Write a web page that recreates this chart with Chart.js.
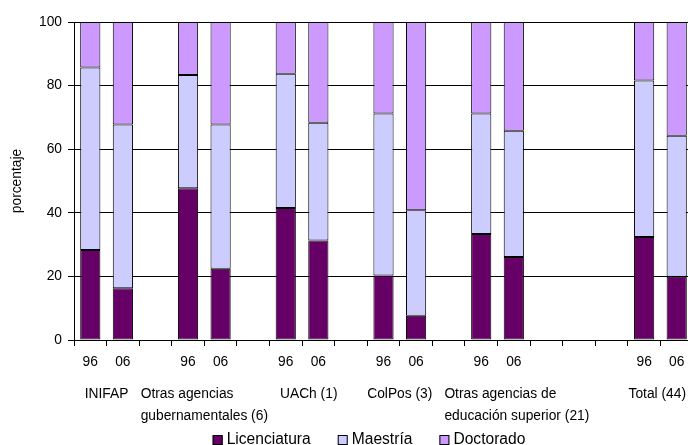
<!DOCTYPE html>
<html>
<head>
<meta charset="utf-8">
<script src="https://cdn.jsdelivr.net/npm/chart.js@4/dist/chart.umd.min.js"></script>
<style>
  html, body { margin: 0; padding: 0; background: #fff; }
  #wrap { width: 688px; height: 445px; overflow: hidden; position: relative; }
  canvas { display: block; }
</style>
</head>
<body>
<div id="wrap"><canvas id="c" width="693" height="445" style="width:693px;height:445px"></canvas></div>
<script>
// Year of each column; empty entries are spacer columns between institutions
const years = ['96', '06', '', '96', '06', '', '96', '06', '', '96', '06', '', '96', '06', '', '', '', '96', '06'];

// Share of researchers by highest degree (%)
const licenciatura = [28.3, 16.3, null, 47.7, 22.4, null, 41.5, 31.3, null, 20.3, 7.6, null, 33.3, 26.1, null, null, null, 32.4, 19.9];
const maestria     = [57.4, 51.5, null, 35.6, 45.4, null, 42.2, 37.0, null, 50.9, 33.2, null, 37.9, 39.7, null, null, null, 49.2, 44.3];
const doctorado    = [14.3, 32.2, null, 16.7, 32.2, null, 16.3, 31.7, null, 28.8, 59.2, null, 28.8, 34.2, null, null, null, 18.4, 35.8];

// Institution names written under each pair of columns
const groupNames = [
  ['INIFAP'],
  ['Otras agencias', 'gubernamentales (6)'],
  ['UACh (1)'],
  ['ColPos (3)'],
  ['Otras agencias de', 'educación superior (21)'],
  ['Total (44)']
];

const seriesNames = ['Licenciatura', 'Maestría', 'Doctorado'];
const seriesColors = ['#660066', '#CCCCFF', '#CC99FF'];

const FONT = '"Liberation Sans", Arial, sans-serif';
const VIEW_W = 688;

// Pairs of column indices (consecutive non-empty year labels)
function columnPairs() {
  const pairs = [];
  for (let i = 0; i < years.length - 1; i++) {
    if (years[i] && years[i + 1]) { pairs.push([i, i + 1]); i++; }
  }
  return pairs;
}

const annotations = {
  id: 'annotations',
  afterDraw(chart) {
    const ctx = chart.ctx;
    const xs = chart.scales.x;
    ctx.save();
    ctx.fillStyle = '#000';
    ctx.textBaseline = 'alphabetic';
    ctx.textAlign = 'left';

    // institution names, kept from overlapping and inside the view
    ctx.font = '13.8px ' + FONT;
    const minGap = 12;
    let prevRight = -Infinity;
    columnPairs().forEach((p, gi) => {
      const lines = groupNames[gi];
      if (!lines) return;
      const w = Math.max(...lines.map(l => ctx.measureText(l).width));
      const cx = (xs.getPixelForValue(p[0]) + xs.getPixelForValue(p[1])) / 2;
      let left = cx - w / 2;
      if (left < prevRight + minGap) left = prevRight + minGap;
      if (left + w > VIEW_W - 2) left = VIEW_W - 2 - w;
      lines.forEach((l, k) => ctx.fillText(l, left, 398 + k * 21.6));
      prevRight = left + w;
    });

    // legend
    ctx.font = '15.6px ' + FONT;
    const box = 10, gap = 4, spacing = 27;
    const widths = seriesNames.map(n => box + gap + ctx.measureText(n).width);
    const total = widths.reduce((a, b) => a + b, 0) + spacing * (widths.length - 1);
    let lx = 369 - total / 2;
    seriesNames.forEach((n, i) => {
      ctx.fillStyle = seriesColors[i];
      ctx.fillRect(lx, 435.5, box, box);
      ctx.strokeStyle = '#000';
      ctx.lineWidth = 1;
      ctx.strokeRect(lx + 0.5, 435.5, box - 1, box - 1);
      ctx.fillStyle = '#000';
      ctx.fillText(n, lx + box + gap, 443.5);
      lx += widths[i] + spacing;
    });
    ctx.restore();
  }
};

const datasets = [licenciatura, maestria, doctorado].map((vals, i) => ({
  label: seriesNames[i],
  data: vals,
  backgroundColor: seriesColors[i],
  borderColor: '#000',
  borderWidth: 1,
  borderSkipped: false,
  barPercentage: 0.62,
  categoryPercentage: 1.0
}));

new Chart(document.getElementById('c'), {
  type: 'bar',
  data: { labels: years, datasets },
  plugins: [annotations],
  options: {
    responsive: false,
    animation: false,
    layout: { padding: { top: 22, left: 0, right: 0, bottom: 0 } },
    plugins: { legend: { display: false }, tooltip: { enabled: false } },
    scales: {
      x: {
        stacked: true,
        offset: true,
        afterFit(scale) { scale.height = 105; },
        grid: { display: true, drawOnChartArea: false, drawTicks: true, tickLength: 6, offset: true, color: '#000', tickColor: '#000' },
        border: { display: true, color: '#000', width: 1 },
        ticks: { autoSkip: false, maxRotation: 0, minRotation: 0, padding: 8, color: '#000', font: { family: FONT, size: 13.8 } }
      },
      y: {
        stacked: true,
        min: 0,
        max: 100,
        afterFit(scale) { scale.width = 74; },
        grid: { color: '#000', lineWidth: 1, drawTicks: true, tickLength: 6, tickColor: '#000' },
        border: { display: true, color: '#000', width: 1 },
        ticks: { stepSize: 20, padding: 6, color: '#000', font: { family: FONT, size: 13.8 } },
        title: { display: true, text: 'porcentaje', color: '#000', font: { family: FONT, size: 13.8 }, padding: { top: 9, bottom: 0 } }
      }
    }
  }
});
</script>
</body>
</html>
